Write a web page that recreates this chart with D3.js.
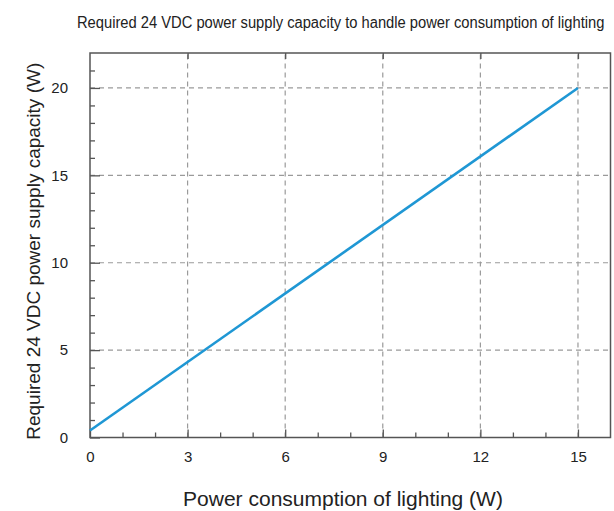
<!DOCTYPE html>
<html>
<head>
<meta charset="utf-8">
<script src="https://cdn.jsdelivr.net/npm/d3@7"></script>
<style>
  html, body { margin: 0; padding: 0; background: #fff; }
  svg { display: block; font-family: "Liberation Sans", Arial, sans-serif; }
</style>
</head>
<body>
<svg id="chart" width="614" height="511"></svg>
<script>
// Lighting load (W) and the matching 24 VDC supply capacity (W)
const lightingW = [0, 15];
const supplyW = [0.4, 20];

const xMajorTicks = [0, 3, 6, 9, 12, 15];
const yMajorTicks = [0, 5, 10, 15, 20];

const titleText = "Required 24 VDC power supply capacity to handle power consumption of lighting";
const xLabelText = "Power consumption of lighting (W)";
const yLabelText = "Required 24 VDC power supply capacity (W)";

const svg = d3.select("#chart");
const margin = { left: 90, right: 3.5, top: 53, bottom: 73.5 };
const W = 614, H = 511;

const x = d3.scaleLinear().domain([0, 16]).range([margin.left, W - margin.right]);
const y = d3.scaleLinear().domain([0, 22]).range([H - margin.bottom, margin.top]);

const x0 = x(0), x1 = x(16), y0 = y(0), y1 = y(22);

// Dashed grid at the major ticks
const grid = svg.append("g");
grid.selectAll("line.gx").data(xMajorTicks.filter(d => d > 0)).join("line")
  .attr("x1", d => x(d)).attr("x2", d => x(d))
  .attr("y1", y0).attr("y2", y1)
  .attr("stroke", "#9a9a9a").attr("stroke-width", 1.2)
  .attr("stroke-dasharray", "5,4");
grid.selectAll("line.gy").data(yMajorTicks.filter(d => d > 0)).join("line")
  .attr("x1", x0).attr("x2", x1)
  .attr("y1", d => y(d)).attr("y2", d => y(d))
  .attr("stroke", "#9a9a9a").attr("stroke-width", 1.2)
  .attr("stroke-dasharray", "5,4");

// Bottom axis: inward ticks, minor every 1 W
const xAxisMinor = d3.axisBottom(x).tickValues(d3.range(1, 16).filter(d => d % 3 !== 0))
  .tickSize(-5).tickFormat("");
const xAxisMajor = d3.axisBottom(x).tickValues(xMajorTicks).tickSize(-8).tickPadding(14)
  .tickFormat(d3.format("d"));
const gxMinor = svg.append("g").attr("transform", `translate(0,${y0})`).call(xAxisMinor);
const gxMajor = svg.append("g").attr("transform", `translate(0,${y0})`).call(xAxisMajor);

// Left axis: inward ticks, minor every 1 W
const yAxisMinor = d3.axisLeft(y).tickValues(d3.range(1, 22).filter(d => d % 5 !== 0))
  .tickSize(-5).tickFormat("");
const yAxisMajor = d3.axisLeft(y).tickValues(yMajorTicks).tickSize(-10).tickPadding(22)
  .tickFormat(d3.format("d"));
const gyMinor = svg.append("g").attr("transform", `translate(${x0},0)`).call(yAxisMinor);
const gyMajor = svg.append("g").attr("transform", `translate(${x0},0)`).call(yAxisMajor);

// Top axis: short inward ticks at the majors only
const xAxisTop = d3.axisTop(x).tickValues(xMajorTicks.filter(d => d > 0)).tickSize(-6).tickFormat("");
const gxTop = svg.append("g").attr("transform", `translate(0,${y1})`).call(xAxisTop);

[gxMinor, gxMajor, gyMinor, gyMajor, gxTop].forEach(g => {
  g.select(".domain").remove();
  g.selectAll(".tick line").attr("stroke", "#555").attr("stroke-width", 1.3);
  g.selectAll(".tick text").attr("fill", "#222").attr("font-size", 15)
    .attr("font-family", "Liberation Sans, Arial, sans-serif");
});

// Plot frame
svg.append("rect")
  .attr("x", x0).attr("y", y1)
  .attr("width", x1 - x0).attr("height", y0 - y1)
  .attr("fill", "none").attr("stroke", "#555").attr("stroke-width", 1.5);

// Capacity line
const line = d3.line().x((d, i) => x(lightingW[i])).y(d => y(d));
svg.append("path")
  .datum(supplyW)
  .attr("d", line)
  .attr("fill", "none")
  .attr("stroke", "#1f97d4")
  .attr("stroke-width", 2.6);

// Title: condensed horizontally to fit a fixed width
const titleG = svg.append("g");
const title = titleG.append("text")
  .attr("x", 0).attr("y", 0)
  .attr("font-size", 16).attr("fill", "#222")
  .text(titleText);
const titleWidth = 528;
const natural = title.node().getComputedTextLength();
titleG.attr("transform", `translate(77,28) scale(${titleWidth / natural},1)`);

svg.append("text")
  .attr("x", 343).attr("y", 506)
  .attr("text-anchor", "middle")
  .attr("font-size", 21).attr("fill", "#222")
  .text(xLabelText);

svg.append("text")
  .attr("transform", `translate(40,${(y0 + y1) / 2 + 6}) rotate(-90)`)
  .attr("text-anchor", "middle")
  .attr("font-size", 19).attr("fill", "#222")
  .text(yLabelText);
</script>
</body>
</html>
